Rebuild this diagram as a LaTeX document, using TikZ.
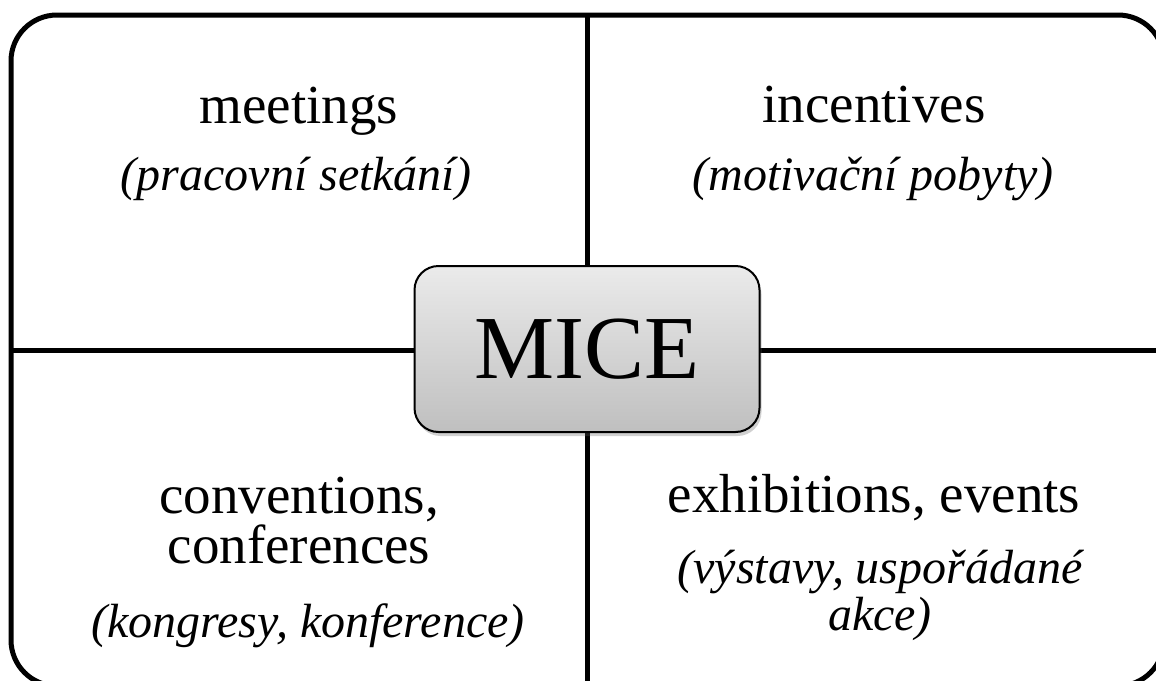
\documentclass[tikz,border=0pt]{standalone}
\usepackage{fontspec}
\setmainfont{Liberation Serif}
\usetikzlibrary{shadows}
\begin{document}
\begin{tikzpicture}[x=1pt,y=-1pt,
  frame/.style={line width=5pt, rounded corners=46pt},
  divider/.style={line width=5pt},
  maintxt/.style={font=\fontsize{55}{50}\selectfont, anchor=base, inner sep=0pt, align=center},
  subtxt/.style={font=\fontsize{48}{47}\selectfont\itshape, anchor=base, inner sep=0pt, align=center},
  hub/.style={draw=black, line width=2pt, rounded corners=24pt, minimum width=345pt, minimum height=166pt,
    top color=black!8, bottom color=black!25,
    drop shadow={shadow xshift=2pt, shadow yshift=-4pt, opacity=0.3, fill=black!60},
    font=\fontsize{90}{90}\selectfont, inner sep=0pt}
]
\useasboundingbox (0,0) rectangle (1156,680);
\clip (0,0) rectangle (1156,680);
\fill[white] (0,0) rectangle (1156,680);
% outer frame
\coordinate (tl) at (11,15);
\coordinate (br) at (1164,686);
\draw[frame] (tl) rectangle (br);
% dividers
\coordinate (vtop) at (587,15);
\coordinate (vbot) at (587,686);
\coordinate (hleft) at (11,350);
\coordinate (hright) at (1164,350);
\draw[divider] (vtop) -- (vbot);
\draw[divider] (hleft) -- (hright);
% center hub
\node[hub] (mice) at (587,349) {MICE};
% quadrant texts
\node[maintxt] (meet) at (299,123) {meetings};
\node[subtxt] (meetcz) at (296,190) {(pracovní setkání)};
\node[maintxt] (inc) at (874,122) {incentives};
\node[subtxt] (inccz) at (873,190) {(motivační pobyty)};
\node[maintxt] (conv) at (299,563) {conventions,\\conferences};
\node[subtxt] (convcz) at (308,637) {(kongresy, konference)};
\node[maintxt] (exh) at (874,512) {exhibitions, events};
\node[subtxt] (exhcz) at (880,630) {(výstavy, uspořádané\\akce)};
\end{tikzpicture}
\end{document}
